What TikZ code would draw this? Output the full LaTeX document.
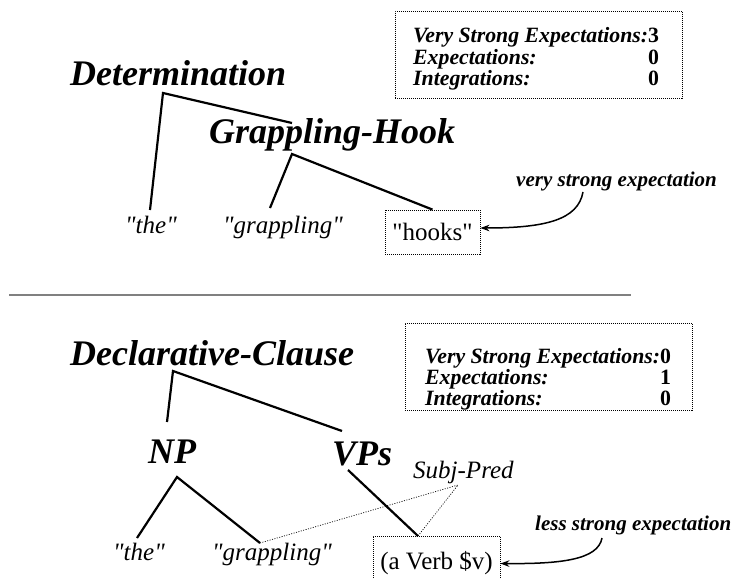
\documentclass[tikz,border=0pt]{standalone}
\usepackage{fontspec}
\setmainfont{Liberation Serif}[Ligatures=TeXOff]
\usetikzlibrary{arrows.meta}

\tikzset{
  cat/.style={font=\fontsize{36}{40}\selectfont\bfseries\itshape, inner sep=0pt, anchor=base west},
  leaf/.style={font=\fontsize{25}{28}\selectfont\itshape, inner sep=0pt, anchor=base west},
  note/.style={font=\fontsize{21}{24}\selectfont\bfseries\itshape, inner sep=0pt, anchor=base west},
  tally/.style={font=\fontsize{21.8}{20}\selectfont\bfseries\itshape, inner sep=0pt, anchor=base west},
  tallybox/.style={draw, dash pattern=on 1pt off 1pt, line width=.8pt, minimum width=287pt, minimum height=87pt, inner sep=0pt},
  slot/.style={draw, dash pattern=on 1pt off 1pt, line width=.8pt, font=\fontsize{25}{28}\selectfont, inner sep=0pt},
  branch/.style={line width=2.2pt},
  link/.style={dash pattern=on 1pt off 1.5pt, line width=.7pt},
  expect/.style={line width=1.5pt, -{Stealth[length=9pt,width=6.5pt]}},
}

\newcommand{\tallyrows}[3]{\begin{tabular}[t]{@{}l@{}r@{}}Very Strong Expectations:&\upshape #1\\Expectations:&\upshape #2\\Integrations:&\upshape #3\end{tabular}}

\begin{document}
\begin{tikzpicture}[x=1pt, y=-1pt]
\useasboundingbox (0,0) rectangle (735,578);
% upper tree: "the grappling hooks"
\node[cat] (det) at (70,85) {Determination};
\node[cat] (hook) at (209,143) {Grappling-Hook};
\node[leaf] (the) at (125,233) {"the"};
\node[leaf] (grap) at (223,233) {"grappling"};
\node[slot, minimum width=95pt, minimum height=44pt] (hooks) at (432.5,232) {"hooks"};
\node[tallybox] (tally1) at (538.5,55) {};
\node[tally] (rows1) at (413,43) {\tallyrows{3}{0}{0}};
\coordinate (detJ) at (163,93);
\coordinate (theTop) at (150,210);
\coordinate (hookTop) at (292,123);
\coordinate (hookJ) at (292,154);
\coordinate (grapTop) at (270,208);
\draw[branch] (theTop) -- (detJ) -- (hookTop);
\draw[branch] (grapTop) -- (hookJ) -- (hooks.north);
% the expectation that points at the open slot
\node[note] (vse) at (516,186) {very strong expectation};
\coordinate (vseFoot) at (583,192);
\draw[expect] (vseFoot) .. controls (578,220) and (545,228) .. ([yshift=4pt]hooks.east);
% separator
\coordinate (sepL) at (9,295);
\coordinate (sepR) at (631,295);
\draw[black!50, line width=2.4pt] (sepL) -- (sepR);
% lower tree: clause with a predicted verb
\node[cat] (decl) at (70,365) {Declarative-Clause};
\node[cat] (np) at (148,463) {NP};
\node[cat] (vps) at (332,465) {VPs};
\node[leaf] (subj) at (413,478) {Subj-Pred};
\node[leaf] (the2) at (113,560) {"the"};
\node[leaf] (grap2) at (212,560) {"grappling"};
\node[slot, minimum width=127pt, minimum height=55pt] (verb) at (436.5,563.5) {(a Verb \$v)};
\node[tallybox] (tally2) at (548.5,366.5) {};
\node[tally] (rows2) at (425,363) {\tallyrows{0}{1}{0}};
\coordinate (declJ) at (173,371);
\coordinate (npTop) at (167,422);
\coordinate (vpsTop) at (342,431);
\coordinate (npJ) at (177,477);
\coordinate (the2Top) at (137,538);
\coordinate (grap2Top) at (260,543);
\coordinate (vpsFoot) at (348,470);
\coordinate (verbTop) at (418,536);
\coordinate (subjFoot) at (458,485);
\draw[branch] (npTop) -- (declJ) -- (vpsTop);
\draw[branch] (the2Top) -- (npJ) -- (grap2Top);
\draw[branch] (vpsFoot) -- (verbTop);
\draw[link] (grap2Top) -- (subjFoot) -- (verbTop);
\node[note] (lse) at (535,530) {less strong expectation};
\coordinate (lseFoot) at (602,538);
\draw[expect] (lseFoot) .. controls (598,560) and (560,564) .. (verb.east);
\end{tikzpicture}
\end{document}
